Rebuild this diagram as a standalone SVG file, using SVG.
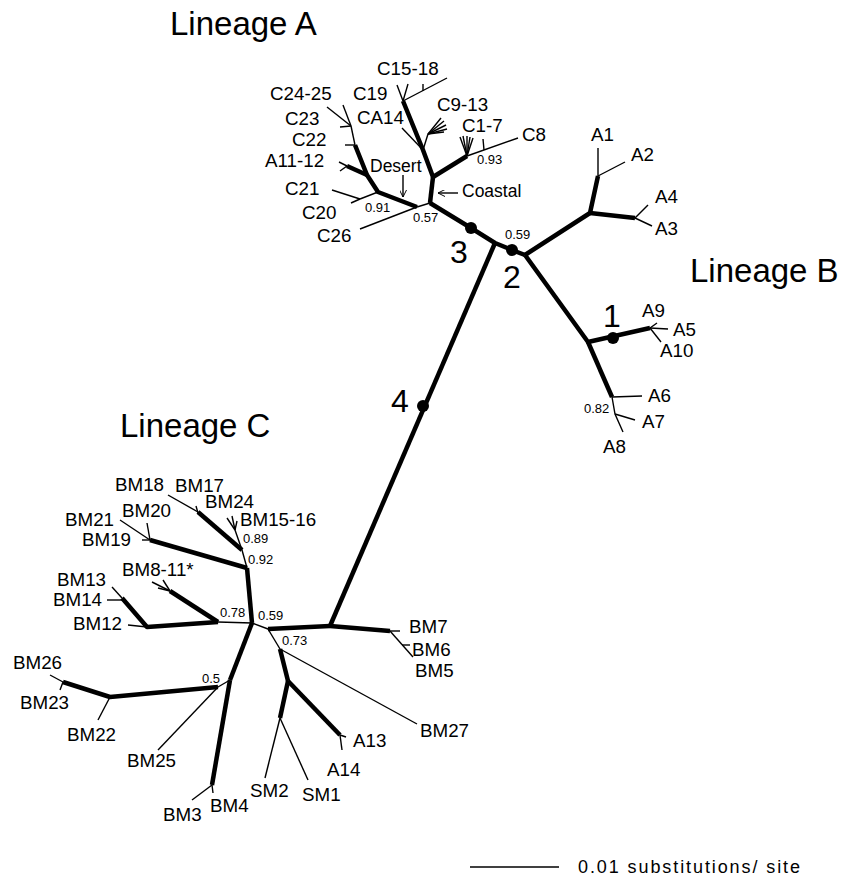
<svg xmlns="http://www.w3.org/2000/svg" width="842" height="894" viewBox="0 0 842 894">
<defs>
<style>
.k{fill:none;stroke:#000;stroke-width:4.5;stroke-linecap:butt;stroke-linejoin:round}
.t{fill:none;stroke:#000;stroke-width:1.4;stroke-linecap:butt}
.lab{font-family:"Liberation Sans",Arial,sans-serif;font-size:18.8px;fill:#000}
.sup{font-family:"Liberation Sans",Arial,sans-serif;font-size:13px;fill:#000}
.lin{font-family:"Liberation Sans",Arial,sans-serif;font-size:33px;fill:#000}
.num{font-family:"Liberation Sans",Arial,sans-serif;font-size:32px;fill:#000;text-anchor:middle}
.dot{fill:#000}
</style>
<marker id="arr" viewBox="0 0 10 10" refX="10" refY="5" markerWidth="7" markerHeight="7" markerUnits="userSpaceOnUse" orient="auto">
<path d="M0,0 L10,5 L0,10" fill="none" stroke="#000" stroke-width="1.4"/>
</marker>
</defs>
<rect width="842" height="894" fill="#fff"/>

<g id="connectors">
<!-- backbone -->
<polyline class="k" points="430,203 471,228 495,243 512,250 525,255"/>
<line class="k" x1="495" y1="243" x2="330" y2="626"/>

<!-- Lineage B -->
<polyline class="k" points="525,255 590,213 598,176"/>
<line class="k" x1="590" y1="213" x2="635" y2="218"/>
<polyline class="k" points="525,255 588,342 650,328"/>
<line class="k" x1="588" y1="342" x2="612" y2="397"/>
<line class="t" x1="598" y1="176" x2="598" y2="148"/>
<line class="t" x1="598" y1="176" x2="625" y2="162"/>
<line class="t" x1="635" y1="218" x2="648" y2="205"/>
<line class="t" x1="635" y1="218" x2="652" y2="226"/>
<line class="t" x1="650" y1="328" x2="657" y2="323"/>
<line class="t" x1="650" y1="328" x2="668" y2="329"/>
<line class="t" x1="650" y1="328" x2="661" y2="342"/>
<line class="t" x1="612" y1="397" x2="642" y2="396"/>
<polyline class="t" points="612,397 615,414 623,432"/>
<line class="t" x1="615" y1="414" x2="635" y2="420"/>

<!-- Lineage A -->
<line class="k" x1="430" y1="203" x2="433" y2="177"/>
<line class="k" x1="433" y1="177" x2="467" y2="156"/>
<polyline class="k" points="433,177 423,150 403,101"/>
<polyline class="k" points="417,207 378,192 367,175 355,145"/>
<line class="k" x1="367" y1="175" x2="347" y2="166"/>
<line class="t" x1="430" y1="203" x2="417" y2="207"/>
<line class="t" x1="417" y1="207" x2="360" y2="229"/>
<line class="t" x1="378" y1="192" x2="360" y2="199"/>
<line class="t" x1="360" y1="199" x2="332" y2="190"/>
<line class="t" x1="360" y1="199" x2="351" y2="203"/>
<line class="t" x1="347" y1="166" x2="339" y2="162"/>
<line class="t" x1="347" y1="166" x2="340" y2="171"/>
<line class="t" x1="355" y1="145" x2="345" y2="145"/>
<line class="t" x1="355" y1="145" x2="351" y2="126"/>
<line class="t" x1="351" y1="126" x2="340" y2="127"/>
<line class="t" x1="351" y1="126" x2="327" y2="107"/>
<line class="t" x1="351" y1="126" x2="343" y2="105"/>
<line class="t" x1="423" y1="150" x2="402" y2="128"/>
<line class="t" x1="423" y1="150" x2="428" y2="134"/>
<line class="t" x1="428" y1="134" x2="441" y2="118"/>
<line class="t" x1="428" y1="134" x2="444" y2="121"/>
<line class="t" x1="428" y1="134" x2="446" y2="125"/>
<line class="t" x1="428" y1="134" x2="447" y2="129"/>
<line class="t" x1="428" y1="134" x2="444" y2="132"/>
<line class="t" x1="467" y1="156" x2="460" y2="137"/>
<line class="t" x1="467" y1="156" x2="463" y2="136"/>
<line class="t" x1="467" y1="156" x2="467" y2="136"/>
<line class="t" x1="467" y1="156" x2="470" y2="137"/>
<line class="t" x1="467" y1="156" x2="473" y2="138"/>
<line class="t" x1="467" y1="156" x2="518" y2="138"/>
<line class="t" x1="484" y1="150" x2="483" y2="139"/>
<line class="t" x1="403" y1="101" x2="397" y2="85"/>
<line class="t" x1="403" y1="101" x2="408" y2="84"/>
<line class="t" x1="403" y1="101" x2="447" y2="78"/>
<line class="t" x1="423" y1="91" x2="423" y2="84"/>
<line class="t" x1="403" y1="175" x2="403" y2="197" marker-end="url(#arr)"/>
<line class="t" x1="458" y1="193" x2="438" y2="193" marker-end="url(#arr)"/>

<!-- Lineage C -->
<line class="k" x1="330" y1="626" x2="390" y2="631"/>
<line class="k" x1="330" y1="626" x2="268" y2="629"/>
<line class="k" x1="280" y1="649" x2="288" y2="681"/>
<line class="k" x1="288" y1="681" x2="340" y2="735"/>
<line class="k" x1="288" y1="681" x2="280" y2="718"/>
<line class="k" x1="252" y1="623" x2="230" y2="680"/>
<line class="k" x1="230" y1="680" x2="212" y2="785"/>
<polyline class="k" points="218,687 110,697 63,682"/>
<line class="k" x1="252" y1="623" x2="247" y2="568"/>
<line class="k" x1="247" y1="568" x2="150" y2="540"/>
<line class="k" x1="242" y1="550" x2="198" y2="512"/>
<line class="k" x1="218" y1="622" x2="170" y2="591"/>
<polyline class="k" points="218,622 147,627 122,598"/>
<line class="t" x1="390" y1="631" x2="400" y2="631"/>
<line class="t" x1="390" y1="631" x2="413" y2="657"/>
<line class="t" x1="402" y1="645" x2="410" y2="645"/>
<line class="t" x1="268" y1="629" x2="252" y2="623"/>
<line class="t" x1="268" y1="629" x2="280" y2="649"/>
<line class="t" x1="280" y1="649" x2="417" y2="724"/>
<line class="t" x1="340" y1="735" x2="346" y2="737"/>
<line class="t" x1="340" y1="735" x2="342" y2="750"/>
<line class="t" x1="280" y1="718" x2="265" y2="778"/>
<line class="t" x1="280" y1="718" x2="308" y2="780"/>
<line class="t" x1="230" y1="680" x2="218" y2="687"/>
<line class="t" x1="218" y1="687" x2="158" y2="750"/>
<line class="t" x1="212" y1="785" x2="192" y2="800"/>
<line class="t" x1="212" y1="785" x2="213" y2="793"/>
<line class="t" x1="110" y1="697" x2="98" y2="720"/>
<line class="t" x1="63" y1="682" x2="50" y2="675"/>
<line class="t" x1="63" y1="682" x2="60" y2="690"/>
<line class="t" x1="247" y1="568" x2="242" y2="550"/>
<line class="t" x1="242" y1="550" x2="235" y2="530"/>
<line class="t" x1="235" y1="530" x2="227" y2="518"/>
<line class="t" x1="235" y1="530" x2="232" y2="516"/>
<line class="t" x1="235" y1="530" x2="237" y2="521"/>
<line class="t" x1="198" y1="512" x2="168" y2="495"/>
<line class="t" x1="198" y1="513" x2="196" y2="506"/>
<line class="t" x1="150" y1="540" x2="120" y2="520"/>
<line class="t" x1="150" y1="540" x2="147" y2="523"/>
<line class="t" x1="150" y1="540" x2="142" y2="540"/>
<line class="t" x1="252" y1="623" x2="218" y2="622"/>
<line class="t" x1="170" y1="591" x2="152" y2="582"/>
<line class="t" x1="170" y1="591" x2="163" y2="580"/>
<line class="t" x1="170" y1="591" x2="158" y2="588"/>
<line class="t" x1="147" y1="627" x2="128" y2="625"/>
<line class="t" x1="122" y1="598" x2="112" y2="587"/>
<line class="t" x1="122" y1="600" x2="107" y2="600"/>

<!-- scale bar -->
<line x1="470" y1="867" x2="559" y2="867" stroke="#000" stroke-width="1.6"/>
</g>

<g id="markers">
<circle class="dot" cx="613" cy="338" r="6"/>
<circle class="dot" cx="512" cy="250" r="6"/>
<circle class="dot" cx="471" cy="228" r="6"/>
<circle class="dot" cx="423" cy="406" r="6"/>
<text class="num" x="612" y="327">1</text>
<text class="num" x="512" y="288">2</text>
<text class="num" x="459" y="263">3</text>
<text class="num" x="400" y="412">4</text>
</g>

<g id="lineage-labels">
<text class="lin" x="170" y="35">Lineage A</text>
<text class="lin" x="690" y="282">Lineage B</text>
<text class="lin" x="120" y="437">Lineage C</text>
</g>

<g id="lineage-A">
<g id="C15-18"><text class="lab" x="377" y="75">C15-18</text></g>
<g id="C19"><text class="lab" x="353" y="100">C19</text></g>
<g id="C24-25"><text class="lab" x="270" y="100">C24-25</text></g>
<g id="C23"><text class="lab" x="285" y="125">C23</text></g>
<g id="C22"><text class="lab" x="292" y="146">C22</text></g>
<g id="A11-12"><text class="lab" x="265" y="167">A11-12</text></g>
<g id="CA14"><text class="lab" x="357" y="124">CA14</text></g>
<g id="C9-13"><text class="lab" x="437" y="111">C9-13</text></g>
<g id="C1-7"><text class="lab" x="462" y="132">C1-7</text></g>
<g id="C8"><text class="lab" x="522" y="141">C8</text></g>
<g id="C21"><text class="lab" x="285" y="195">C21</text></g>
<g id="C20"><text class="lab" x="302" y="219">C20</text></g>
<g id="C26"><text class="lab" x="317" y="242">C26</text></g>
<g id="Desert"><text class="lab" x="370" y="172" style="font-size:17.5px">Desert</text></g>
<g id="Coastal"><text class="lab" x="462" y="197" style="font-size:17.5px">Coastal</text></g>
<text class="sup" x="477" y="164">0.93</text>
<text class="sup" x="365" y="212">0.91</text>
<text class="sup" x="413" y="222">0.57</text>
<text class="sup" x="505" y="239">0.59</text>
</g>

<g id="lineage-B">
<g id="A1"><text class="lab" x="591" y="141">A1</text></g>
<g id="A2"><text class="lab" x="631" y="161">A2</text></g>
<g id="A4"><text class="lab" x="655" y="203">A4</text></g>
<g id="A3"><text class="lab" x="655" y="235">A3</text></g>
<g id="A9"><text class="lab" x="642" y="317">A9</text></g>
<g id="A5"><text class="lab" x="673" y="336">A5</text></g>
<g id="A10"><text class="lab" x="660" y="357">A10</text></g>
<g id="A6"><text class="lab" x="648" y="402">A6</text></g>
<g id="A7"><text class="lab" x="642" y="428">A7</text></g>
<g id="A8"><text class="lab" x="603" y="453">A8</text></g>
<text class="sup" x="584" y="413">0.82</text>
</g>

<g id="lineage-C">
<g id="BM7"><text class="lab" x="409" y="633">BM7</text></g>
<g id="BM6"><text class="lab" x="412" y="656">BM6</text></g>
<g id="BM5"><text class="lab" x="415" y="677">BM5</text></g>
<g id="BM27"><text class="lab" x="420" y="737">BM27</text></g>
<g id="A13"><text class="lab" x="353" y="747">A13</text></g>
<g id="A14"><text class="lab" x="327" y="776">A14</text></g>
<g id="SM2"><text class="lab" x="250" y="797">SM2</text></g>
<g id="SM1"><text class="lab" x="302" y="801">SM1</text></g>
<g id="BM3"><text class="lab" x="163" y="821">BM3</text></g>
<g id="BM4"><text class="lab" x="210" y="812">BM4</text></g>
<g id="BM25"><text class="lab" x="127" y="767">BM25</text></g>
<g id="BM22"><text class="lab" x="67" y="741">BM22</text></g>
<g id="BM26"><text class="lab" x="13" y="669">BM26</text></g>
<g id="BM23"><text class="lab" x="20" y="709">BM23</text></g>
<g id="BM24"><text class="lab" x="205" y="508">BM24</text></g>
<g id="BM15-16"><text class="lab" x="240" y="526">BM15-16</text></g>
<g id="BM17"><text class="lab" x="175" y="492">BM17</text></g>
<g id="BM18"><text class="lab" x="115" y="491">BM18</text></g>
<g id="BM20"><text class="lab" x="122" y="517">BM20</text></g>
<g id="BM21"><text class="lab" x="65" y="526">BM21</text></g>
<g id="BM19"><text class="lab" x="82" y="546">BM19</text></g>
<g id="BM8-11"><text class="lab" x="122" y="576">BM8-11*</text></g>
<g id="BM13"><text class="lab" x="57" y="586">BM13</text></g>
<g id="BM14"><text class="lab" x="53" y="606">BM14</text></g>
<g id="BM12"><text class="lab" x="73" y="630">BM12</text></g>
<text class="sup" x="258" y="620">0.59</text>
<text class="sup" x="282" y="645">0.73</text>
<text class="sup" x="202" y="683">0.5</text>
<text class="sup" x="248" y="564">0.92</text>
<text class="sup" x="243" y="543">0.89</text>
<text class="sup" x="220" y="617">0.78</text>
</g>

<g id="scale">
<text class="lab" x="578" y="873" style="font-size:18px" textLength="222" lengthAdjust="spacing">0.01 substitutions/ site</text>
</g>
</svg>
